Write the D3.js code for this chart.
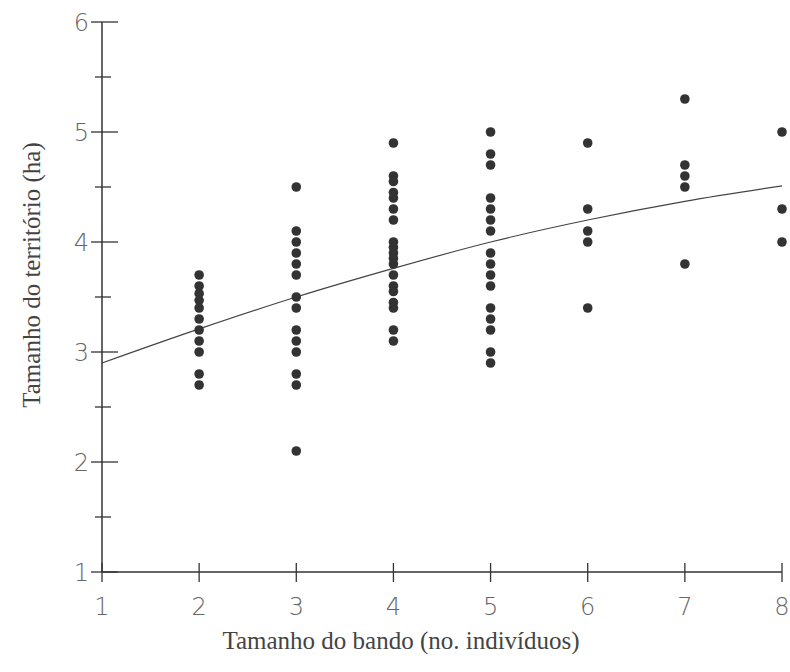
<!DOCTYPE html>
<html><head><meta charset="utf-8">
<script src="https://cdn.jsdelivr.net/npm/d3@7"></script>
<style>body{margin:0;background:#fff}svg{display:block}</style>
</head><body>
<svg id="c" width="790" height="672"></svg>
<script>
// Data: band size (x) and territory size (ha)
const groupSizes = [2,3,4,5,6,7,8];
const territories = [
  [3.7,3.6,3.53,3.47,3.4,3.3,3.2,3.1,3.0,2.8,2.7],
  [4.5,4.1,4.0,3.9,3.8,3.7,3.5,3.4,3.2,3.1,3.0,2.8,2.7,2.1],
  [4.9,4.6,4.55,4.45,4.4,4.3,4.2,4.0,3.95,3.9,3.85,3.8,3.7,3.6,3.55,3.45,3.4,3.2,3.1],
  [5.0,4.8,4.7,4.4,4.3,4.2,4.1,3.9,3.8,3.7,3.6,3.4,3.3,3.2,3.0,2.9],
  [4.9,4.3,4.1,4.0,3.4],
  [5.3,4.7,4.6,4.5,3.8],
  [5.0,4.3,4.0]
];
const fitX = [1,2,3,4,5,6,7,8];
const fitY = [2.9,3.21,3.5,3.76,4.0,4.2,4.37,4.51];
const xTicks = [1,2,3,4,5,6,7,8];
const yTicks = [1,2,3,4,5,6];
const yMinorTicks = [1.5,2.5,3.5,4.5,5.5];
const xTitle = "Tamanho do bando (no. indivíduos)";
const yTitle = "Tamanho do território (ha)";

const svg = d3.select("#c");
const x = d3.scaleLinear().domain([1,8]).range([102,782]);
const y = d3.scaleLinear().domain([1,6]).range([572,22]);
const axisColor = "#333";

const g = svg.append("g");
// axes lines
g.append("line").attr("x1",x(1)).attr("x2",x(8)).attr("y1",y(1)).attr("y2",y(1))
  .attr("stroke",axisColor).attr("stroke-width",1.5);
g.append("line").attr("x1",x(1)).attr("x2",x(1)).attr("y1",y(1)).attr("y2",y(6))
  .attr("stroke",axisColor).attr("stroke-width",1.5);

// x ticks
g.selectAll(".xt").data(xTicks).join("line")
  .attr("x1",d=>x(d)).attr("x2",d=>x(d)).attr("y1",y(1)-9).attr("y2",y(1)+10)
  .attr("stroke",axisColor).attr("stroke-width",1.3);
g.selectAll(".xl").data(xTicks).join("text")
  .attr("x",d=>x(d)).attr("y",y(1)+43).attr("text-anchor","middle")
  .attr("font-family","DejaVu Sans, sans-serif").attr("font-size",24).attr("fill","#666")
  .attr("font-weight",200)
  .text(d=>d);

// y ticks
g.selectAll(".yt").data(yTicks).join("line")
  .attr("x1",x(1)-11).attr("x2",x(1)+16).attr("y1",d=>y(d)).attr("y2",d=>y(d))
  .attr("stroke",axisColor).attr("stroke-width",1.3);
g.selectAll(".ym").data(yMinorTicks).join("line")
  .attr("x1",x(1)-7).attr("x2",x(1)+9).attr("y1",d=>y(d)).attr("y2",d=>y(d))
  .attr("stroke",axisColor).attr("stroke-width",1.3);
g.selectAll(".yl").data(yTicks).join("text")
  .attr("x",x(1)-13).attr("y",d=>y(d)+9).attr("text-anchor","end")
  .attr("font-family","DejaVu Sans, sans-serif").attr("font-size",24).attr("fill","#666")
  .attr("font-weight",200)
  .text(d=>d);

// fitted curve
const line = d3.line().x(d=>x(d[0])).y(d=>y(d[1])).curve(d3.curveMonotoneX);
g.append("path").datum(fitX.map((v,i)=>[v,fitY[i]]))
  .attr("d",line).attr("fill","none").attr("stroke","#444").attr("stroke-width",1.2);

// points
const pts = [];
groupSizes.forEach((gs,i)=>territories[i].forEach(t=>pts.push([gs,t])));
g.selectAll(".pt").data(pts).join("circle")
  .attr("cx",d=>x(d[0])).attr("cy",d=>y(d[1])).attr("r",4.8).attr("fill","#333");

// titles
svg.append("text").attr("x",401).attr("y",649).attr("text-anchor","middle")
  .attr("font-family","Liberation Serif, Times New Roman, serif").attr("font-size",25).attr("fill","#444")
  .text(xTitle);
svg.append("text").attr("transform",`translate(40,275) rotate(-90)`).attr("text-anchor","middle")
  .attr("font-family","Liberation Serif, Times New Roman, serif").attr("font-size",25).attr("fill","#444")
  .text(yTitle);
</script>
</body></html>
